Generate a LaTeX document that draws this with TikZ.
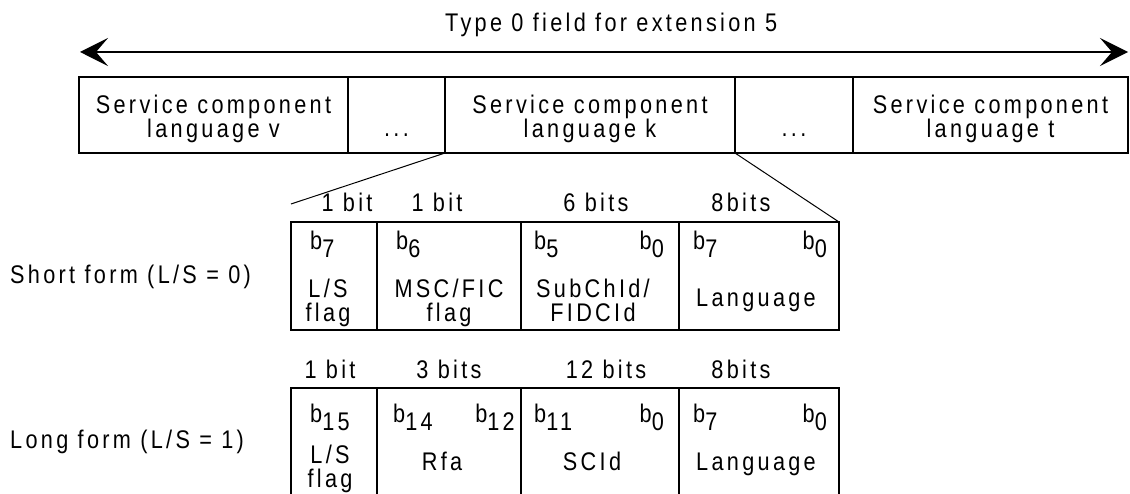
\documentclass[tikz,border=0pt]{standalone}
\usepackage{fontspec}
\setmainfont{Liberation Sans}[FakeStretch=0.85, LetterSpace=13]
\usetikzlibrary{arrows.meta, positioning}
\newcommand{\bsub}[1]{b\raisebox{-8pt}{#1}}

\begin{document}
\begin{tikzpicture}[
  x=1pt, y=-1pt,
  cell/.style={rectangle, draw, line width=1.8pt, inner sep=0pt, outer sep=0pt},
  topcell/.style={cell, minimum height=76pt},
  bitcell/.style={cell, minimum height=108pt},
  longcell/.style={cell, minimum height=112pt},
  txt/.style={inner sep=0pt, align=center, font=\fontsize{25.5}{24}\selectfont},
  arr/.style={{Stealth[length=28pt, width=28pt, inset=12pt]}-{Stealth[length=28pt, width=28pt, inset=12pt]}, line width=2.5pt},
  zoomline/.style={line width=1pt}
]
\useasboundingbox (0,0) rectangle (1130,494);

% title and extent arrow
\node[txt, anchor=base west] (title) at (445,32) {Type 0 field for extension 5};
\coordinate (al) at (80,52);
\coordinate (ar) at (1128,52);
\draw[arr] (al) -- (ar);

% type 0 field
\node[topcell, minimum width=269pt] (sv) at (213.5,115) {};
\node[topcell, minimum width=97pt, right=0pt of sv] (d1) {};
\node[topcell, minimum width=290pt, right=0pt of d1] (sk) {};
\node[topcell, minimum width=118pt, right=0pt of sk] (d2) {};
\node[topcell, minimum width=275pt, right=0pt of d2] (st) {};
\node[txt, anchor=north] (svtext) at ([yshift=-17.5pt]sv.north) {Service component\\language v};
\node[txt, anchor=base] (d1text) at ([yshift=-60pt]d1.north) {...};
\node[txt, anchor=north] (sktext) at ([yshift=-17.5pt]sk.north) {Service component\\language k};
\node[txt, anchor=base] (d2text) at ([yshift=-60pt]d2.north) {...};
\node[txt, anchor=north] (sttext) at ([yshift=-17.5pt]st.north) {Service component\\language t};

% short form
\node[bitcell, minimum width=86pt] (s1) at (334,276) {};
\node[bitcell, minimum width=144pt, right=0pt of s1] (s2) {};
\node[bitcell, minimum width=158pt, right=0pt of s2] (s3) {};
\node[bitcell, minimum width=160pt, right=0pt of s3] (s4) {};
\coordinate (zl) at (291,204);
\draw[zoomline] (sk.south west) -- (zl);
\draw[zoomline] (sk.south east) -- (s4.north east);

\node[txt, anchor=base west] (shortform) at (10,284) {Short form (L/S = 0)};
\node[txt, anchor=base] (s1w) at (347,212) {1 bit};
\node[txt, anchor=base] (s2w) at (437,212) {1 bit};
\node[txt, anchor=base] (s3w) at (596,212) {6 bits};
\node[txt, anchor=base] (s4w) at (741,212) {8bits};
\node[txt, anchor=base west] (s1b) at (310,250) {\bsub{7}};
\node[txt, anchor=base west] (s2b) at (396,250) {\bsub{6}};
\node[txt, anchor=base west] (s3b) at (534,250) {\bsub{5}};
\node[txt, anchor=base east] (s3e) at (664,250) {\bsub{0}};
\node[txt, anchor=base west] (s4b) at (693,250) {\bsub{7}};
\node[txt, anchor=base east] (s4e) at (827,250) {\bsub{0}};
\node[txt, anchor=north] (s1t) at (328,279) {L/S\\flag};
\node[txt, anchor=north] (s2t) at (449,279) {MSC/FIC\\flag};
\node[txt, anchor=north] (s3t) at (593,279) {SubChId/\\FIDCId};
\node[txt, anchor=base] (s4t) at (756,307) {Language};

% long form
\node[longcell, minimum width=86pt] (l1) at (334,444) {};
\node[longcell, minimum width=144pt, right=0pt of l1] (l2) {};
\node[longcell, minimum width=158pt, right=0pt of l2] (l3) {};
\node[longcell, minimum width=160pt, right=0pt of l3] (l4) {};

\node[txt, anchor=base west] (longform) at (10,448) {Long form (L/S = 1)};
\node[txt, anchor=base] (l1w) at (330,378) {1 bit};
\node[txt, anchor=base] (l2w) at (449,378) {3 bits};
\node[txt, anchor=base] (l3w) at (606,378) {12 bits};
\node[txt, anchor=base] (l4w) at (741,378) {8bits};
\node[txt, anchor=base west] (l1b) at (310,422) {\bsub{15}};
\node[txt, anchor=base west] (l2b) at (393,422) {\bsub{14}};
\node[txt, anchor=base east] (l2e) at (515,422) {\bsub{12}};
\node[txt, anchor=base west] (l3b) at (534,422) {\bsub{11}};
\node[txt, anchor=base east] (l3e) at (664,422) {\bsub{0}};
\node[txt, anchor=base west] (l4b) at (693,422) {\bsub{7}};
\node[txt, anchor=base east] (l4e) at (827,422) {\bsub{0}};
\node[txt, anchor=north] (l1t) at (330,445) {L/S\\flag};
\node[txt, anchor=base] (l2t) at (442,470) {Rfa};
\node[txt, anchor=base] (l3t) at (592,470) {SCId};
\node[txt, anchor=base] (l4t) at (756,470) {Language};
\end{tikzpicture}
\end{document}
